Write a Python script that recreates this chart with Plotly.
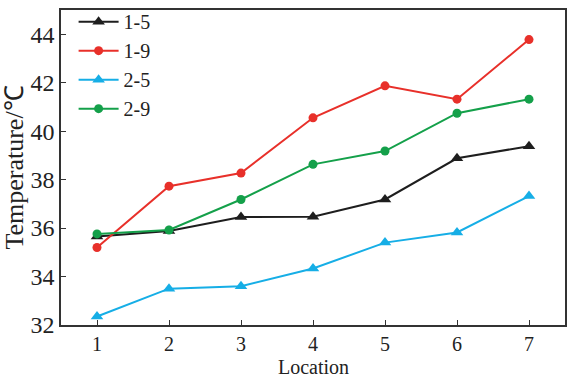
import plotly.graph_objects as go

locations = [1, 2, 3, 4, 5, 6, 7]
s_1_5 = [35.65, 35.88, 36.46, 36.47, 37.18, 38.88, 39.38]
s_1_9 = [35.2, 37.73, 38.27, 40.55, 41.87, 41.32, 43.78]
s_2_5 = [32.35, 33.5, 33.6, 34.33, 35.4, 35.82, 37.32]
s_2_9 = [35.76, 35.92, 37.18, 38.63, 39.18, 40.74, 41.32]

names = ["1-5", "1-9", "2-5", "2-9"]
series = [s_1_5, s_1_9, s_2_5, s_2_9]
colors = ["#1e1e1e", "#e8302a", "#16aee6", "#14a04a"]
symbols = ["triangle-up", "circle", "triangle-up", "circle"]
sizes = [11, 9, 11, 9]

FONT = "Liberation Serif"

fig = go.Figure()
for n, s, c, sym, sz in zip(names, series, colors, symbols, sizes):
    fig.add_trace(go.Scatter(
        x=locations, y=s, name=n, mode="lines+markers",
        line=dict(color=c, width=2),
        marker=dict(symbol=sym, size=sz, color=c),
    ))

axis_common = dict(
    showgrid=False, zeroline=False, showline=True, linecolor="#333333",
    linewidth=1.5, mirror=True, ticks="inside", ticklen=5, tickwidth=1,
    tickcolor="#333333",
)

fig.update_layout(
    width=567, height=382,
    margin=dict(l=61, r=2, t=2, b=57),
    plot_bgcolor="white", paper_bgcolor="white",
    font=dict(family=FONT, color="#222222"),
    showlegend=True,
    legend=dict(
        x=0.025, y=1.025, xanchor="left", yanchor="top",
        bgcolor="rgba(0,0,0,0)", font=dict(family=FONT, size=20, color="#222222"),
        itemwidth=40, tracegroupgap=0,
    ),
    xaxis=dict(
        range=[0.5, 7.5], tickvals=locations, ticktext=[str(v) for v in locations],
        tickfont=dict(family=FONT, size=20, color="#222222"),
        automargin=False, **axis_common,
    ),
    yaxis=dict(
        range=[32, 45], tickvals=[32, 34, 36, 38, 40, 42, 44],
        tickfont=dict(family=FONT, size=24, color="#222222"),
        title=dict(text="Temperature/℃", font=dict(family=FONT, size=26), standoff=0),
        automargin=False, **axis_common,
    ),
    annotations=[dict(
        text="Location", xref="paper", yref="paper", x=0.5, y=-0.176,
        xanchor="center", yanchor="bottom", showarrow=False,
        font=dict(family=FONT, size=20, color="#222222"),
    )],
)

fig.write_html("out.html", config={"displayModeBar": False},
               post_script="document.body.style.margin='0';")
